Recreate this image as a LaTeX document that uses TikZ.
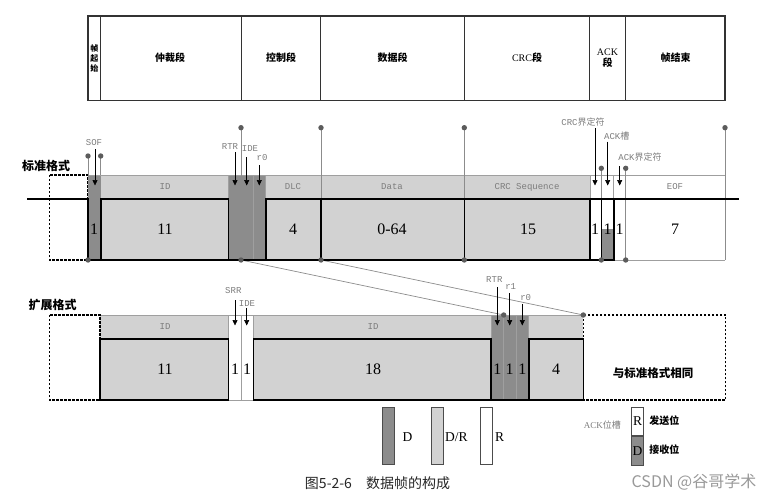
\documentclass[tikz,border=0pt]{standalone}
\usepackage{fontspec}
\setmainfont{Liberation Serif}
\setmonofont{Liberation Mono}
\newfontfamily\cjk{Noto Sans CJK SC}
\usetikzlibrary{arrows.meta}
\definecolor{dombit}{HTML}{8C8C8C}
\definecolor{anybit}{HTML}{D2D2D2}
\definecolor{lblgray}{HTML}{7C7C7C}
\definecolor{pingray}{HTML}{5C5C5C}

\begin{document}
\begin{tikzpicture}[x=1pt, y=-1pt,
	every node/.style={inner sep=0pt},
	frame/.style={draw=black!80, line width=1.1pt},
	grid/.style={draw=gray!75, line width=0.6pt},
	sig/.style={draw=black, line width=1.6pt},
	idle/.style={draw=black, line width=1.3pt, dash pattern=on 2.4pt off 1.6pt},
	lead/.style={draw=gray!90, line width=0.7pt},
	ptr/.style={-{Triangle[width=5pt,length=5.5pt]}, line width=0.6pt},
	tag/.style={text=lblgray, font=\ttfamily\fontsize{9}{9}\selectfont},
	bits/.style={font=\fontsize{16}{16}\selectfont},
	seg/.style={font=\cjk\bfseries\fontsize{10}{11}\selectfont},
	legbox/.style={draw=black!70, line width=0.8pt, minimum width=12pt, minimum height=57pt}]
	\useasboundingbox (0,0) rectangle (778,501);

	\draw[frame] (88,16) rectangle (725,100.7);
	\foreach \x in {100.7,241.3,320.7,464.3,589.3,625.7} \draw[frame] (\x,16) -- (\x,100.7);
	\node[font=\cjk\bfseries\fontsize{8}{10}\selectfont, align=center] (sofseg) at (94.3,58) {帧\\起\\始};
	\node[seg] (arbseg) at (170,58) {仲裁段};
	\node[seg] (ctlseg) at (281,58) {控制段};
	\node[seg] (datseg) at (392.5,58) {数据段};
	\node[seg] (crcseg) at (527,58) {{\rmfamily\mdseries CRC}段};
	\node[seg, align=center] (ackseg) at (607.5,58) {{\rmfamily\mdseries ACK}\\段};
	\node[seg] (eofseg) at (675.7,58) {帧结束};

	\node[font=\cjk\bfseries\fontsize{12}{12}\selectfont] (stdname) at (46,166) {标准格式};
	\fill[anybit] (100.7,175) rectangle (228.3,260);
	\fill[anybit] (265.7,175) rectangle (590,260);
	\fill[dombit] (88,175) rectangle (100.7,260);
	\fill[dombit] (228.3,175) rectangle (265.7,260);
	\fill[dombit] (601.3,229) rectangle (613.7,260);
	\draw[grid] (88,175) -- (725,175);
	\draw[grid] (613.7,260) -- (725,260);
	\foreach \x in {228.3,265.7,590,613.7} \draw[grid] (\x,175) -- (\x,199);
	\draw[grid] (253.3,175) -- (253.3,260);
	\draw[idle] (49.3,175) rectangle (88,260);

	\coordinate (p1t) at (88,156);    \coordinate (p1b) at (88,260);
	\coordinate (p2t) at (100.7,156); \coordinate (p2b) at (100.7,175);
	\coordinate (p3t) at (241,127.7); \coordinate (p3b) at (241,260);
	\coordinate (p4t) at (321,127.7); \coordinate (p4b) at (321,260);
	\coordinate (p5t) at (464.3,127.7); \coordinate (p5b) at (464.3,260);
	\coordinate (p6t) at (601.3,168.3); \coordinate (p6b) at (601.3,260);
	\coordinate (p7t) at (625.7,168.3); \coordinate (p7b) at (625.7,260);
	\coordinate (p8t) at (725,127.7); \coordinate (p8b) at (725,260);
	\coordinate (q1) at (503.7,315);  \coordinate (q2) at (583.3,315);
	\foreach \a/\b in {p1t/p1b,p2t/p2b,p3t/p3b,p4t/p4b,p5t/p5b,p6t/p6b,p7t/p7b,p8t/p8b,p3b/q1,p4b/q2}
		\draw[lead] (\a) -- (\b);

	\draw[sig] (27,199) -- (88,199) -- (88,260) -- (613.7,260);
	\draw[sig] (590,199) -- (739,199);
	\draw[sig] (100.7,199) rectangle (228.3,260);
	\draw[sig] (265.7,199) rectangle (321,260);
	\draw[sig] (321,199) rectangle (464.3,260);
	\draw[sig] (464.3,199) rectangle (590,260);
	\draw[sig] (601.3,199) rectangle (613.7,260);

	\node[tag] (sof) at (94,143) {SOF};
	\node[tag] (rtr) at (230,146.7) {RTR};
	\node[tag] (ide) at (250,148.7) {IDE};
	\node[tag] (rzero) at (262,158) {r0};
	\node[tag] (crcdel) at (583,121.7) {CRC{\cjk 界定符}};
	\node[tag] (ackslot) at (616.7,135.7) {ACK{\cjk 槽}};
	\node[tag] (ackdel) at (640,156.7) {ACK{\cjk 界定符}};
	\foreach \x/\y in {95/149,235/152,246.7/157.3,259.3/165,595/128,607.7/141.7,619.7/166}
		\draw[ptr] (\x,\y) -- (\x,185.5);
	\node[tag] (idf) at (165,187) {ID};
	\node[tag] (dlcf) at (293,187) {DLC};
	\node[tag] (dataf) at (392,187) {Data};
	\node[tag] (crcf) at (527,187) {CRC Sequence};
	\node[tag] (eoff) at (675,187) {EOF};
	\foreach \x/\t in {94/1,165/11,293/4,392/0-64,528/15,595/1,607.5/1,619.7/1,675/7}
		\node[bits] at (\x,229) {\t};

	\node[font=\cjk\bfseries\fontsize{12}{12}\selectfont] (extname) at (52.5,305) {扩展格式};
	\fill[anybit] (100,315) rectangle (228.3,400);
	\fill[anybit] (253.3,315) rectangle (491,400);
	\fill[anybit] (528.7,315) rectangle (583.3,400);
	\fill[dombit] (491,315) rectangle (528.7,400);
	\draw[grid] (100,315) -- (583.3,315);
	\draw[grid] (228.3,400) -- (253.3,400);
	\foreach \x in {228.3,253.3,491,528.7} \draw[grid] (\x,315) -- (\x,339);
	\foreach \x in {241,503.7,516} \draw[grid] (\x,315) -- (\x,400);
	\draw[idle] (49.3,315) rectangle (100,400);
	\draw[idle] (583.3,315) rectangle (725.7,400);
	\draw[sig] (100,339) rectangle (228.3,400);
	\draw[sig] (253.3,339) rectangle (491,400);
	\draw[sig] (528.7,339) rectangle (583.3,400);
	\draw[sig] (491,400) -- (528.7,400);
	\node[font=\cjk\bfseries\fontsize{11.5}{12}\selectfont] (same) at (653,373) {与标准格式相同};

	\node[tag] (srr) at (233.3,290.7) {SRR};
	\node[tag] (xide) at (247,303.3) {IDE};
	\node[tag] (xrtr) at (494.3,280) {RTR};
	\node[tag] (rone) at (510.7,286.7) {r1};
	\node[tag] (xrzero) at (525.7,297.3) {r0};
	\foreach \x/\y in {235/300,246.7/308.3,497.3/287,509.7/293.3,522.3/304}
		\draw[ptr] (\x,\y) -- (\x,325.5);
	\node[tag] (xidf) at (165,326.7) {ID};
	\node[tag] (xidg) at (373,326.7) {ID};
	\foreach \x/\t in {165/11,235/1,247/1,373/18,497.3/1,509.7/1,522.3/1,556/4}
		\node[bits] at (\x,369.3) {\t};

	\foreach \p in {p1t,p1b,p2t,p3t,p3b,p4t,p4b,p5t,p5b,p6t,p6b,p7t,p7b,p8t,q1,q2}
		\fill[pingray] (\p) circle (2.7pt);

	\node[legbox, fill=dombit] (legd) at (388.3,435.8) {};
	\node[legbox, fill=anybit] (legdr) at (437.2,435.8) {};
	\node[legbox, fill=white] (legr) at (486.2,435.8) {};
	\node[font=\fontsize{13.5}{13.5}\selectfont, anchor=west] (legdt) at (402.3,436.7) {D};
	\node[font=\fontsize{13.5}{13.5}\selectfont, anchor=west] (legdrt) at (445,436.7) {D/R};
	\node[font=\fontsize{13.5}{13.5}\selectfont, anchor=west] (legrt) at (495,436.7) {R};
	\node[text=lblgray, font=\cjk\fontsize{9}{9}\selectfont] (ackleg) at (602.3,425) {{\rmfamily ACK}位槽};
	\node[legbox, minimum height=28.4pt, fill=white, font=\fontsize{13.5}{13.5}\selectfont] (ackr) at (637.5,421.5) {R};
	\node[legbox, minimum height=28.6pt, fill=dombit, font=\fontsize{13.5}{13.5}\selectfont, anchor=north] (ackd) at (ackr.south) {D};
	\node[font=\cjk\bfseries\fontsize{10}{10}\selectfont] (sendt) at (664.3,421) {发送位};
	\node[font=\cjk\bfseries\fontsize{10}{10}\selectfont] (recvt) at (664.3,449.3) {接收位};

	\node[font=\cjk\fontsize{14}{14}\selectfont, text=black!85] (cap) at (377.5,483.3) {图5-2-6\hspace{1em}数据帧的构成};
	\node[font=\cjk\fontsize{16}{16}\selectfont, text=black!40] (wm) at (694,482.3) {CSDN @谷哥学术};
\end{tikzpicture}
\end{document}
